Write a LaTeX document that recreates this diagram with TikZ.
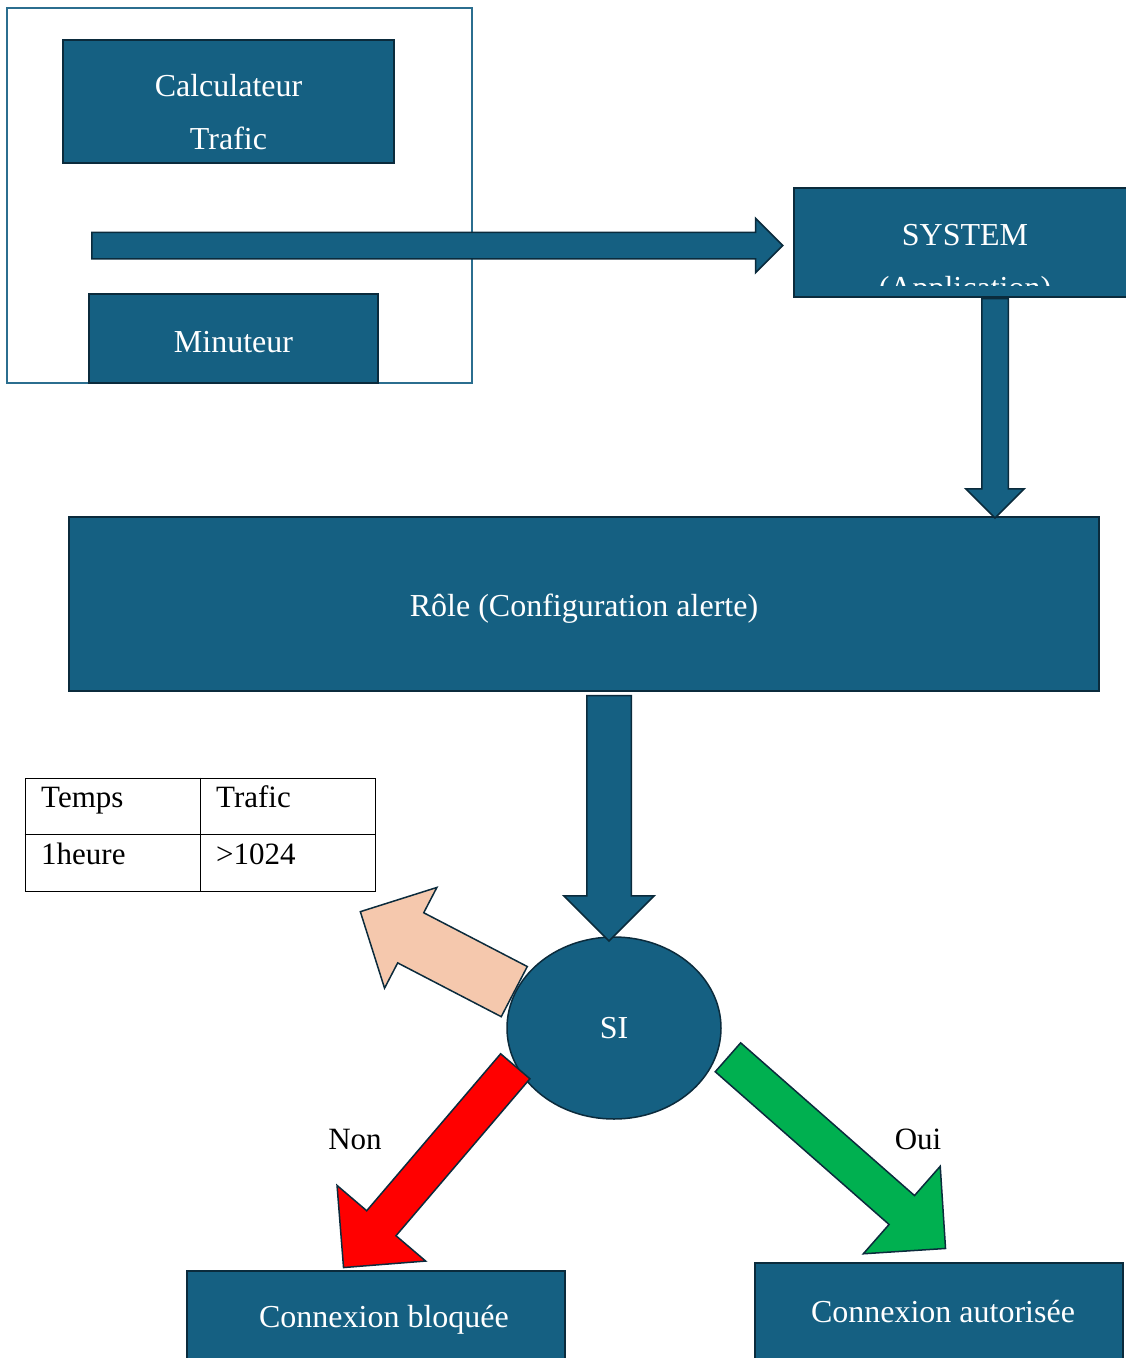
\documentclass[tikz,border=0pt]{standalone}
\usepackage{fontspec}
\setmainfont{Liberation Serif}
\usetikzlibrary{shapes.geometric, shapes.arrows, calc, positioning}

\definecolor{boxblue}{HTML}{156082}
\definecolor{boxedge}{HTML}{0B2B3C}
\definecolor{framecol}{HTML}{2B6E8F}
\definecolor{peach}{HTML}{F5C8AD}
\definecolor{okgreen}{HTML}{00B050}

\newcommand{\bigfont}{\fontsize{32}{53}\selectfont}
\newcommand{\smallfont}{\fontsize{31}{40}\selectfont}

% block arrow between two named points
\newcommand{\blockarrow}[3][]{%
  \path let \p1=($(#3)-(#2)$), \n1={veclen(\x1,\y1)}, \n2={atan2(\y1,\x1)} in
    node[bigarrow, #1, minimum height=\n1, rotate=\n2, anchor=tail] at (#2) {};}

\begin{document}
\begin{tikzpicture}[
    x=1pt, y=-1pt,
    box/.style={rectangle, draw=boxedge, fill=boxblue, line width=1.5pt, inner sep=0pt, text=white, font=\bigfont},
    boxtext/.style={text=white, font=\bigfont, inner sep=0pt, anchor=base},
    celltext/.style={font=\smallfont, inner sep=0pt, anchor=base west},
    answer/.style={font=\smallfont, inner sep=0pt},
    bigarrow/.style={single arrow, draw=boxedge, fill=boxblue, line width=1.5pt, inner xsep=0pt,
                     single arrow tip angle=90, single arrow head indent=0pt}
]
    \clip (0,0) rectangle (1126,1358);

    % Top left group
    \node[draw=framecol, line width=1.5pt, minimum width=465, minimum height=375, inner sep=0pt] (frame) at (239.5,195.5) {};
    \node[box, minimum width=331, minimum height=123] (calcbox) at (228.5,101.5) {};
    \node[boxtext] (calcl1) at (228.5,96) {Calculateur};
    \node[boxtext] (calcl2) at (228.5,149) {Trafic};
    \node[box, minimum width=289, minimum height=89, text height=28pt, text depth=0pt] (timer) at (233.5,338.5) {Minuteur};

    % System
    \node[box, minimum width=342, minimum height=109] (system) at (965,242.5) {};
    \node[boxtext] (sysl1) at (965,245.5) {SYSTEM};
    \begin{scope}
        \clip (system.north west) rectangle ($(system.south east)+(0,-12)$);
        \node[boxtext] (sysl2) at (965,298.5) {(Application)};
    \end{scope}

    % Role
    \node[box, minimum width=1030, minimum height=174, text height=31pt, text depth=6pt] (role) at (584,604) {Rôle (Configuration alerte)};

    \coordinate (inleft) at (91,245.5);
    \coordinate (inright) at (782,245.5);
    \blockarrow[name=arrin, inner ysep=12.5pt, single arrow head extend=14]{inleft}{inright}

    \coordinate (systail) at ($(system.south)+(30,0)$);
    \coordinate (systip) at ($(systail |- role.north)+(0,1)$);
    \blockarrow[name=arrsys, inner ysep=12.5pt, single arrow head extend=16]{systail}{systip}

    % Table
    \node[draw=black, line width=0.8pt, minimum width=350, minimum height=113, inner sep=0pt] (tbl) at (200,834.5) {};
    \draw[line width=0.8pt] (tbl.north) -- (tbl.south);
    \draw[line width=0.8pt] (tbl.west) -- (tbl.east);
    \node[celltext] (c11) at (41,807) {Temps};
    \node[celltext] (c12) at (216,807) {Trafic};
    \node[celltext] (c21) at (41,864) {1heure};
    \node[celltext] (c22) at (216,864) {>1024};

    % Decision
    \node[ellipse, draw=boxedge, fill=boxblue, line width=1.5pt, inner sep=0pt, minimum width=214, minimum height=182,
          text=white, font=\bigfont] (si) at (614,1028) {SI};

    \coordinate (roletail) at ($(role.south)+(25,3)$);
    \coordinate (sitop) at ($(si.north)+(-5,4)$);
    \blockarrow[name=arrrole, inner ysep=21.5pt, single arrow head extend=23]{roletail}{sitop}

    \coordinate (peachtip) at (361,912);
    \blockarrow[name=arrpeach, fill=peach, inner ysep=27.5pt, single arrow head extend=28.5]{si.160}{peachtip}

    \coordinate (nontip) at (344,1267);
    \blockarrow[name=arrnon, fill=red, inner ysep=18.5pt, single arrow head extend=39]{si.201}{nontip}

    \coordinate (ouitail) at ($(si.-14)+(10,3)$);
    \coordinate (ouitip) at (945,1248);
    \blockarrow[name=arroui, fill=okgreen, inner ysep=18.5pt, single arrow head extend=39]{ouitail}{ouitip}

    \node[answer] (non) at (355,1139) {Non};
    \node[answer] (oui) at (918,1139) {Oui};

    % Results
    \node[box, minimum width=378, minimum height=129] (blocked) at (376,1335.5) {};
    \node[boxtext] (blockedtxt) at (384,1327) {Connexion bloquée};
    \node[box, minimum width=368, minimum height=137] (allowed) at (939,1331.5) {};
    \node[boxtext] (allowedtxt) at (943,1322) {Connexion autorisée};

\end{tikzpicture}
\end{document}
